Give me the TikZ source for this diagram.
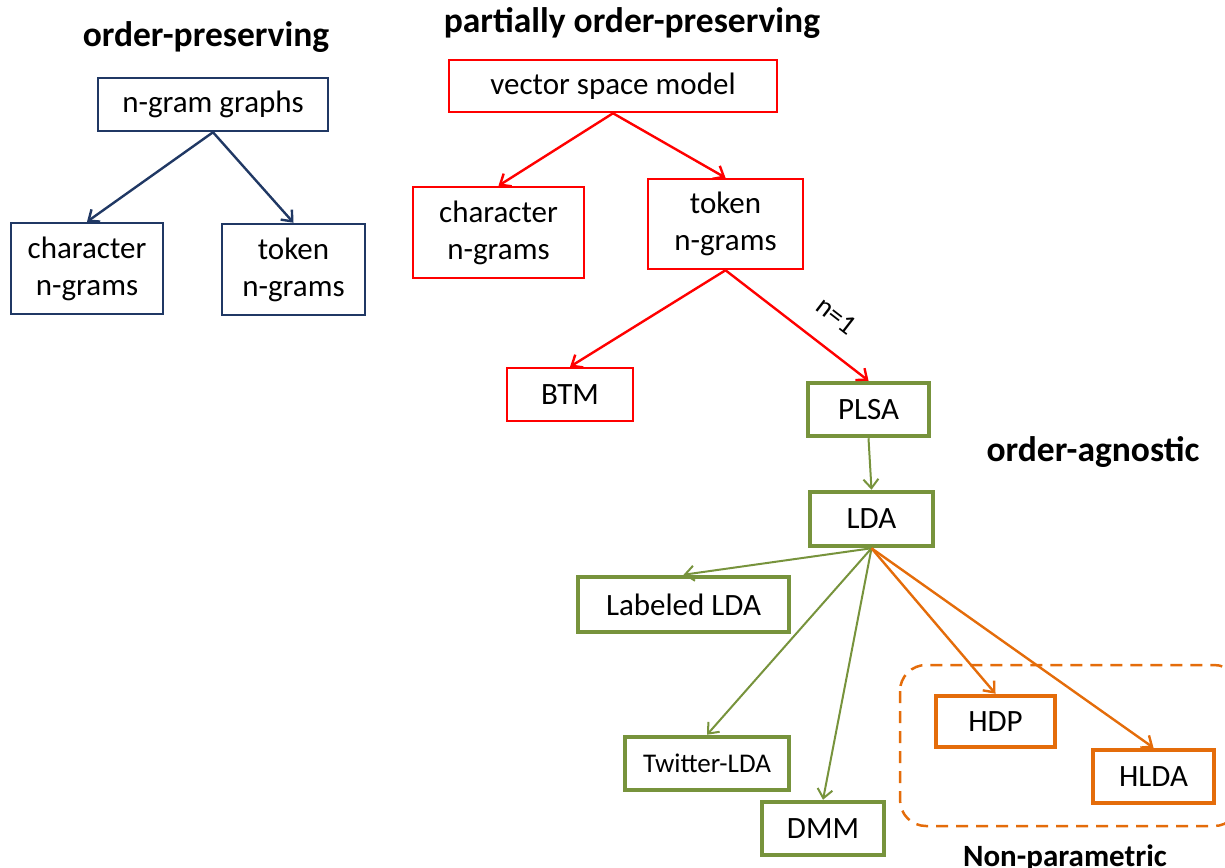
\documentclass[tikz,border=0pt]{standalone}
\usepackage{fontspec}
\setmainfont{Carlito}
\usetikzlibrary{arrows.meta}

\definecolor{navy}{RGB}{32,56,100}
\definecolor{olive}{RGB}{119,147,60}
\definecolor{tangerine}{RGB}{228,108,10}

\begin{document}
\begin{tikzpicture}[x=1pt, y=-1pt,
  box/.style={draw, rectangle, inner sep=0pt, align=center,
    minimum width=#1, font=\fontsize{31}{37}\selectfont},
  thinbox/.style={box=#1, line width=2.5pt},
  thickbox/.style={box=#1, line width=4.5pt},
  hgt/.style={minimum height=#1},
  heading/.style={font=\fontsize{35.5}{40}\selectfont\bfseries, anchor=base},
  edge/.style={line width=2.4pt, -{Straight Barb[length=9pt,width=15pt]}},
]
  \useasboundingbox (0,0) rectangle (1225,867);

  % order-preserving
  \node[heading] (hordpres) at (206,47) {order-preserving};
  \node[thinbox=230, hgt=53, navy, text=black] (ngg) at (213,104.5) {n-gram graphs};
  \node[thinbox=152, hgt=91, navy, text=black] (nchar) at (87,268.5) {character\\n-grams};
  \node[thinbox=143, hgt=91, navy, text=black] (ntok) at (293.5,269.5) {token\\n-grams};
  \draw[edge, navy] (ngg.south) -- (nchar.north);
  \draw[edge, navy] (ngg.south) -- (ntok.north);

  % partially order-preserving
  \node[heading] (hpart) at (632,33) {partially order-preserving};
  \node[thinbox=328, hgt=52, red, text=black] (vsm) at (613,86) {vector space model};
  \node[thinbox=171, hgt=91, red, text=black] (vchar) at (498.5,232.5) {character\\n-grams};
  \node[thinbox=155, hgt=90, red, text=black] (vtok) at (725.5,224) {token\\n-grams};
  \node[thinbox=126, hgt=53, red, text=black] (btm) at (570,394.5) {BTM};
  \draw[edge, red] (vsm.south) -- (vchar.north);
  \draw[edge, red] (vsm.south) -- (vtok.north);
  \draw[edge, red] (vtok.south) -- (btm.north);

  % order-agnostic
  \node[heading] (hagn) at (1093,461) {order-agnostic};
  \node[thickbox=121, hgt=53, olive, text=black] (plsa) at (868.5,409.5) {PLSA};
  \node[thickbox=123, hgt=54, olive, text=black] (lda) at (871.5,519) {LDA};
  \node[thickbox=211, hgt=55, olive, text=black] (lablda) at (683.5,604.5) {Labeled LDA};
  \node[thickbox=164, hgt=53, olive, text=black, font=\fontsize{27}{30}\selectfont] (twlda) at (707,763.5) {Twitter-LDA};
  \node[thickbox=122, hgt=53, olive, text=black] (dmm) at (823,828.5) {DMM};
  \draw[edge, red] (vtok.south) -- node[pos=0.64, above=22pt, sloped, text=black,
    font=\fontsize{28}{30}\selectfont, inner sep=0pt] (nlab) {n=1} (plsa.north);
  \draw[edge, olive, line width=2pt] (plsa.south) -- (lda.north);
  \draw[edge, olive, line width=2pt] (lda.south) -- (lablda.north);
  \draw[edge, olive, line width=2pt] (lda.south) -- (twlda.north);
  \draw[edge, olive, line width=2pt] (lda.south) -- (dmm.north);

  % non-parametric
  \draw[tangerine, line width=2.5pt, dash pattern=on 12pt off 8pt, rounded corners=26pt]
    (900,665) rectangle (1240,826);
  \node[heading, font=\fontsize{31}{36}\selectfont\bfseries] (hnonpar) at (1065,866) {Non-parametric};
  \node[thickbox=119, hgt=51, tangerine, text=black] (hdp) at (995.5,721.5) {HDP};
  \node[thickbox=121, hgt=53, tangerine, text=black] (hlda) at (1153.5,776.5) {HLDA};
  \draw[edge, tangerine] (lda.south) -- (hdp.north);
  \draw[edge, tangerine] (lda.south) -- (hlda.north);
\end{tikzpicture}
\end{document}
